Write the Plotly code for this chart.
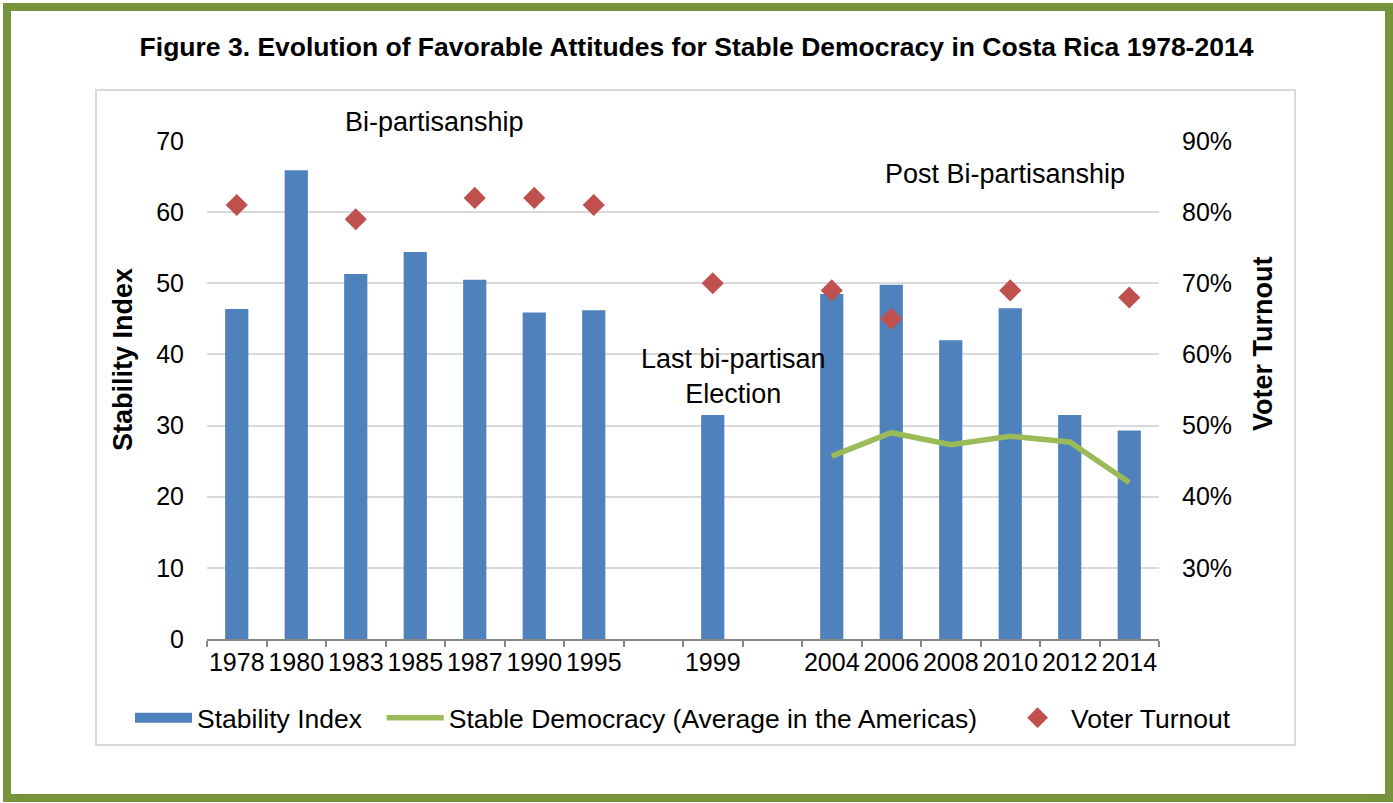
import plotly.graph_objects as go

# Survey years on a categorical axis; the two unlabeled slots are spacer categories
years = ["1978", "1980", "1983", "1985", "1987", "1990", "1995", " ",
         "1999", "  ", "2004", "2006", "2008", "2010", "2012", "2014"]

stability_index = [46.4, 65.9, 51.3, 54.4, 50.5, 45.9, 46.2, None,
                   31.5, None, 48.5, 49.8, 42.0, 46.5, 31.5, 29.3]

voter_turnout = [81, None, 79, None, 82, 82, 81, None,
                 70, None, 69, 65, None, 69, None, 68]

stable_democracy_americas = [None, None, None, None, None, None, None, None,
                             None, None, 45.7, 49.0, 47.3, 48.5, 47.7, 42.0]

left_ticks = [0, 10, 20, 30, 40, 50, 60, 70]
right_ticks = [30, 40, 50, 60, 70, 80, 90]
right_labels = ["30%", "40%", "50%", "60%", "70%", "80%", "90%"]

FONT = "Liberation Sans, Arial, sans-serif"
BLUE = "#4F81BD"
GREEN = "#9BBB59"
RED = "#C0504D"
FRAME = "#77933C"
GRID = "#D9D9D9"
NBSP = "\u00a0"

W, H = 1393, 803
ML, MR, MT, MB = 207, 234, 141, 164
PW, PH = W - ML - MR, H - MT - MB


def px_x(px):
    return (px - ML) / PW


def px_y(py):
    return (H - MB - py) / PH


fig = go.Figure()

# legend swatch for the bars: a wide flat bar
fig.add_trace(go.Scatter(
    x=[None], y=[None], mode="lines", name="Stability Index" + NBSP * 2,
    line=dict(color=BLUE, width=14), hoverinfo="skip",
))

fig.add_trace(go.Bar(
    x=years, y=stability_index, name="Stability Index",
    marker=dict(color=BLUE, line=dict(width=0)),
    yaxis="y", showlegend=False,
))

fig.add_trace(go.Scatter(
    x=years, y=stable_democracy_americas,
    name="Stable Democracy (Average in the Americas)" + NBSP * 3,
    mode="lines", line=dict(color=GREEN, width=5.5),
    connectgaps=False, yaxis="y2",
))

fig.add_trace(go.Scatter(
    x=years, y=voter_turnout, name="Voter Turnout",
    mode="markers", marker=dict(symbol="diamond", size=17, color=RED),
    yaxis="y2",
))

shapes = [
    # outer olive frame
    dict(type="rect", xref="paper", yref="paper",
         x0=px_x(7), x1=px_x(1389), y0=px_y(798), y1=px_y(7),
         line=dict(color=FRAME, width=8), layer="below"),
    # inner chart-area border
    dict(type="rect", xref="paper", yref="paper",
         x0=px_x(96), x1=px_x(1295), y0=px_y(745), y1=px_y(90),
         line=dict(color=GRID, width=2), layer="below"),
]

ann_font = dict(size=27, color="black", family=FONT)


def note(text, px, py, angle=0):
    return dict(text=text, xref="paper", yref="paper",
                x=px_x(px), y=px_y(py), xanchor="center", yanchor="middle",
                showarrow=False, textangle=angle, font=ann_font)


annotations = [
    note("Bi-partisanship", 434, 122),
    note("Post Bi-partisanship", 1005, 174),
    note("Last bi-partisan<br>Election", 733, 376),
    note("<b>Stability Index</b>", 123, 360, -90),
    note("<b>Voter Turnout</b>", 1263, 344, -90),
]

fig.update_layout(
    width=W, height=H,
    margin=dict(l=ML, r=MR, t=MT, b=MB, autoexpand=False),
    paper_bgcolor="white", plot_bgcolor="white",
    font=dict(family=FONT, size=25, color="black"),
    title=dict(
        text="<b>Figure 3. Evolution of Favorable Attitudes for Stable Democracy in Costa Rica 1978-2014</b>",
        x=0.5, xref="container", xanchor="center",
        y=1 - 47 / H, yref="container", yanchor="middle",
        font=dict(size=26.5, color="black", family=FONT),
    ),
    bargap=0.61,
    showlegend=True,
    legend=dict(
        orientation="h", x=px_x(130), y=px_y(718),
        xanchor="left", yanchor="middle",
        font=dict(size=26.5, color="black", family=FONT),
        itemwidth=57, tracegroupgap=0, bgcolor="rgba(0,0,0,0)",
    ),
    xaxis=dict(
        type="category", categoryorder="array", categoryarray=years,
        range=[-0.5, len(years) - 0.5], tickangle=0,
        showgrid=False, showline=True, linecolor="#868686", linewidth=1.5,
        ticks="outside", tickson="boundaries", ticklen=6,
        tickcolor="#868686", tickwidth=1.5,
        tickfont=dict(size=25, color="black"),
        fixedrange=True,
    ),
    yaxis=dict(
        range=[0, 70], tickmode="array", tickvals=left_ticks,
        showgrid=True, gridcolor=GRID, gridwidth=1.5,
        zeroline=False, showline=False, ticks="",
        ticklabelstandoff=22,
        tickfont=dict(size=25, color="black"),
    ),
    yaxis2=dict(
        range=[20, 90], overlaying="y", side="right",
        tickmode="array", tickvals=right_ticks, ticktext=right_labels,
        showgrid=False, zeroline=False, showline=False, ticks="",
        ticklabelstandoff=22,
        tickfont=dict(size=25, color="black"),
    ),
    shapes=shapes,
    annotations=annotations,
)

fig.write_html("out.html")
